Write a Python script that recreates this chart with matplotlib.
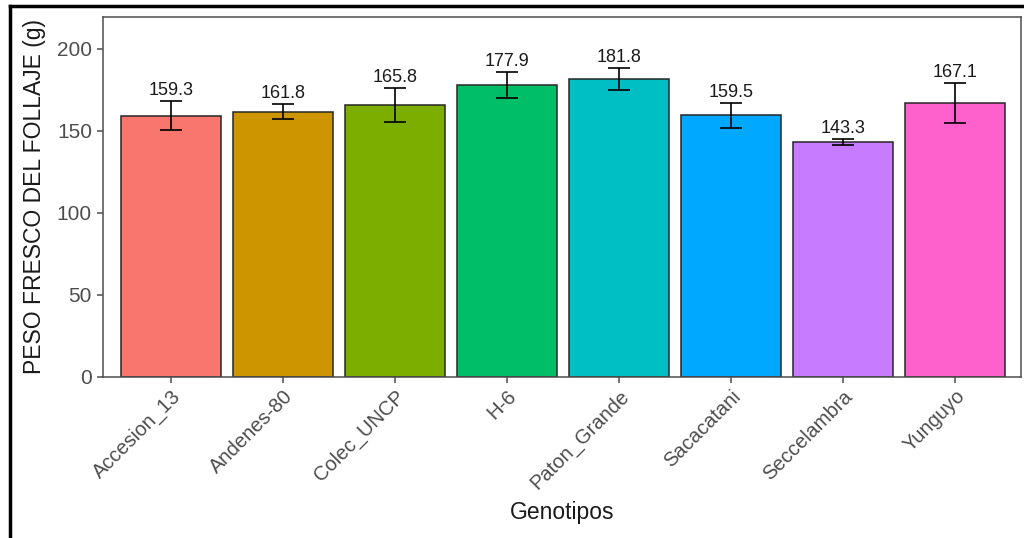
import matplotlib.pyplot as plt
import matplotlib.transforms as mtransforms
from matplotlib.lines import Line2D

plt.rcParams['font.family'] = ['Liberation Sans', 'DejaVu Sans']

genotipos = ['Accesion_13', 'Andenes-80', 'Colec_UNCP', 'H-6',
             'Paton_Grande', 'Sacacatani', 'Seccelambra', 'Yunguyo']
peso = [159.3, 161.8, 165.8, 177.9, 181.8, 159.5, 143.3, 167.1]
error = [8.7, 4.6, 10.3, 8.0, 6.6, 7.6, 1.7, 12.4]
colores = ['#F8766D', '#CD9600', '#7CAE00', '#00BE67',
           '#00BFC4', '#00A9FF', '#C77CFF', '#FF61CC']

fig = plt.figure(figsize=(10.24, 5.38), dpi=100)
ax = fig.add_axes([0.1006, 0.2993, 0.8965, 0.6691])

x = range(len(genotipos))
ax.bar(x, peso, width=0.89, color=colores, edgecolor='#262626', linewidth=1.1, zorder=2)
ax.errorbar(x, peso, yerr=error, fmt='none', ecolor='black', elinewidth=1.2,
            capsize=7.9, capthick=1.2, zorder=3)

for xi, p, e in zip(x, peso, error):
    ax.annotate(f'{p:.1f}', (xi, p + e), xytext=(0, 6), textcoords='offset pixels',
                ha='center', va='baseline', fontsize=13, color='#1a1a1a')

ax.set_xlim(-0.607, 7.589)
ax.set_ylim(0, 219.5)
ax.set_yticks([0, 50, 100, 150, 200])
ax.set_xticks(list(x))
ax.set_xticklabels(genotipos, rotation=45, ha='right', va='top',
                   rotation_mode='anchor')
offset = mtransforms.ScaledTranslation(12 / 100, -5 / 100, fig.dpi_scale_trans)
for lbl in ax.get_xticklabels():
    lbl.set_transform(lbl.get_transform() + offset)

ax.tick_params(axis='both', colors='#4D4D4D', length=4, width=1.1, pad=3)
ax.tick_params(axis='x', labelsize=14.5)
ax.tick_params(axis='y', labelsize=15, pad=4)
for s in ax.spines.values():
    s.set_color('#4D4D4D')
    s.set_linewidth(1.1)

ax.set_xlabel('Genotipos', fontsize=16.5, color='#1a1a1a', labelpad=6)
ax.set_ylabel('PESO FRESCO DEL FOLLAJE (g)', fontsize=16.5, color='#1a1a1a', labelpad=8)

# marco exterior
fig.add_artist(Line2D([10 / 1024, 10 / 1024], [0, 1 - 6 / 538], color='black',
                      linewidth=2.5, transform=fig.transFigure))
fig.add_artist(Line2D([10 / 1024, 1], [1 - 6 / 538, 1 - 6 / 538], color='black',
                      linewidth=2.5, transform=fig.transFigure))

fig.savefig('out.png', dpi=100)
